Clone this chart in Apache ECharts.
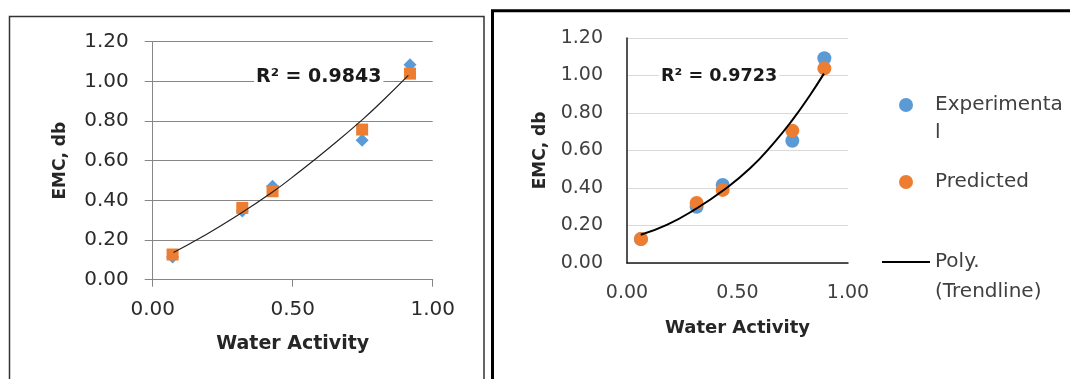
<!DOCTYPE html>
<html>
<head>
<meta charset="utf-8">
<script src="https://cdn.jsdelivr.net/npm/echarts@6/dist/echarts.min.js"></script>
<style>
html, body { margin: 0; padding: 0; background: #fff; }
#chart { width: 1070px; height: 379px; }
</style>
</head>
<body>
<div id="chart"></div>
<script>
// left panel (diamonds / squares)
const waterActivityL = [0.071, 0.32, 0.428, 0.748, 0.919];
const experimentalL = [0.115, 0.347, 0.471, 0.703, 1.084];
const predictedL = [0.127, 0.362, 0.446, 0.757, 1.039];
const trendXL = [0.074, 0.169, 0.288, 0.428, 0.526, 0.633, 0.748, 0.824, 0.913];
const trendYL = [0.137, 0.21, 0.311, 0.442, 0.547, 0.668, 0.806, 0.906, 1.03];

// right panel (circles)
const waterActivityR = [0.063, 0.315, 0.433, 0.748, 0.893];
const experimentalR = [0.128, 0.30, 0.416, 0.652, 1.092];
const predictedR = [0.128, 0.32, 0.39, 0.706, 1.038];
const trendXR = [0.062, 0.18, 0.315, 0.433, 0.557, 0.662, 0.748, 0.828, 0.891];
const trendYR = [0.151, 0.203, 0.291, 0.385, 0.505, 0.637, 0.762, 0.895, 1.01];

const seriesNames = ['Experimental', 'Predicted', 'Poly. (Trendline)'];
// leading blank line keeps the icon level with the first text line
const legendText = ['\nExperimenta\nl', 'Predicted', '\nPoly.\n(Trendline)'];
const r2Left = 'R² = 0.9843';
const r2Right = 'R² = 0.9723';

const FONT = 'DejaVu Sans';
const BLUE = '#5b9bd5';
const ORANGE = '#ed7d31';

function pairs(xs, ys) {
	return xs.map(function (x, i) { return [x, ys[i]]; });
}

var myChart = echarts.init(document.getElementById('chart'));

myChart.setOption({
	backgroundColor: '#fff',
	animation: false,
	grid: [
		{ left: 152.7, top: 41.7, width: 280, height: 238 },
		{ left: 627, top: 38, width: 221, height: 225 }
	],
	xAxis: [{
		gridIndex: 0,
		type: 'value',
		min: 0, max: 1, interval: 0.5,
		name: 'Water Activity',
		nameLocation: 'middle',
		nameGap: 55,
		nameTextStyle: { fontFamily: FONT, fontWeight: 'bold', fontSize: 19, color: '#262626' },
		axisLine: { show: true, onZero: false, lineStyle: { color: '#868686' } },
		axisTick: { show: true, length: 7, lineStyle: { color: '#868686' } },
		axisLabel: {
			margin: 20, fontFamily: FONT, fontSize: 20, color: '#2b2b2b',
			formatter: function (v) { return v.toFixed(2); }
		},
		splitLine: { show: false }
	}, {
		gridIndex: 1,
		type: 'value',
		min: 0, max: 1, interval: 0.5,
		name: 'Water Activity',
		nameLocation: 'middle',
		nameGap: 56,
		nameTextStyle: { fontFamily: FONT, fontWeight: 'bold', fontSize: 18, color: '#262626' },
		axisLine: { show: true, onZero: false, lineStyle: { color: '#1a1a1a', width: 1.5 } },
		axisTick: { show: false },
		axisLabel: {
			margin: 21, fontFamily: FONT, fontSize: 19, color: '#404040',
			formatter: function (v) { return v.toFixed(2); }
		},
		splitLine: { show: false }
	}],
	yAxis: [{
		gridIndex: 0,
		type: 'value',
		min: 0, max: 1.2, interval: 0.2,
		name: 'EMC, db',
		nameLocation: 'middle',
		nameGap: 84,
		nameTextStyle: { fontFamily: FONT, fontWeight: 'bold', fontSize: 17, color: '#262626' },
		axisLine: { show: true, onZero: false, lineStyle: { color: '#868686' } },
		axisTick: { show: true, length: 8, lineStyle: { color: '#868686' } },
		axisLabel: {
			margin: 24, fontFamily: FONT, fontSize: 20, color: '#2b2b2b',
			formatter: function (v) { return v.toFixed(2); }
		},
		splitLine: { show: true, lineStyle: { color: '#868686', width: 1 } }
	}, {
		gridIndex: 1,
		type: 'value',
		min: 0, max: 1.2, interval: 0.2,
		name: 'EMC, db',
		nameLocation: 'middle',
		nameGap: 78,
		nameTextStyle: { fontFamily: FONT, fontWeight: 'bold', fontSize: 17, color: '#262626' },
		axisLine: { show: true, onZero: false, lineStyle: { color: '#1a1a1a', width: 1.5 } },
		axisTick: { show: false },
		axisLabel: {
			margin: 24, fontFamily: FONT, fontSize: 19, color: '#404040',
			formatter: function (v) { return v.toFixed(2); }
		},
		splitLine: { show: true, lineStyle: { color: '#d9d9d9', width: 1 } }
	}],
	legend: {
		orient: 'vertical',
		left: 882,
		top: 63,
		padding: 0,
		itemWidth: 48,
		itemHeight: 14,
		itemGap: 21,
		selectedMode: false,
		textStyle: { fontFamily: FONT, fontSize: 20, lineHeight: 28, color: '#404040' },
		formatter: function (name) { return legendText[seriesNames.indexOf(name)]; },
		data: [
			{ name: seriesNames[0], icon: 'circle' },
			{ name: seriesNames[1], icon: 'circle' },
			{ name: seriesNames[2], icon: 'path://M0,0h48v2h-48z', textStyle: { lineHeight: 30 } }
		]
	},
	graphic: [
		{ type: 'rect', silent: true, shape: { x: 9.5, y: 16.5, width: 474.5, height: 420 },
			style: { fill: null, stroke: '#333', lineWidth: 1.5 } },
		{ type: 'rect', silent: true, shape: { x: 492.5, y: 10.7, width: 620, height: 420 },
			style: { fill: null, stroke: '#000', lineWidth: 3 } },
		{ type: 'text', left: 254, top: 67, silent: true, z: 10,
			style: { text: r2Left, font: 'bold 19px "' + FONT + '"', fill: '#1a1a1a',
				backgroundColor: '#fff', padding: [1, 2, 1, 2] } },
		{ type: 'text', left: 659, top: 66, silent: true, z: 10,
			style: { text: r2Right, font: 'bold 17.6px "' + FONT + '"', fill: '#1a1a1a',
				backgroundColor: '#fff', padding: [1, 2, 1, 2] } }
	],
	series: [{
		name: seriesNames[0], type: 'scatter', xAxisIndex: 1, yAxisIndex: 1,
		symbol: 'circle', symbolSize: 14, itemStyle: { color: BLUE, opacity: 1 },
		data: pairs(waterActivityR, experimentalR)
	}, {
		name: seriesNames[1], type: 'scatter', xAxisIndex: 1, yAxisIndex: 1,
		symbol: 'circle', symbolSize: 14, itemStyle: { color: ORANGE, opacity: 1 },
		data: pairs(waterActivityR, predictedR)
	}, {
		name: seriesNames[2], type: 'line', xAxisIndex: 1, yAxisIndex: 1,
		smooth: true, symbol: 'none', itemStyle: { color: '#000' },
		lineStyle: { color: '#000', width: 2 },
		data: pairs(trendXR, trendYR)
	}, {
		name: seriesNames[0], type: 'scatter', xAxisIndex: 0, yAxisIndex: 0,
		symbol: 'diamond', symbolSize: 13, itemStyle: { color: BLUE, opacity: 1 },
		data: pairs(waterActivityL, experimentalL)
	}, {
		name: seriesNames[1], type: 'scatter', xAxisIndex: 0, yAxisIndex: 0,
		symbol: 'rect', symbolSize: 12, itemStyle: { color: ORANGE, opacity: 1 },
		data: pairs(waterActivityL, predictedL)
	}, {
		name: seriesNames[2], type: 'line', xAxisIndex: 0, yAxisIndex: 0,
		smooth: true, symbol: 'none', itemStyle: { color: '#222' },
		lineStyle: { color: '#222', width: 1.2 },
		data: pairs(trendXL, trendYL)
	}]
});
</script>
</body>
</html>
